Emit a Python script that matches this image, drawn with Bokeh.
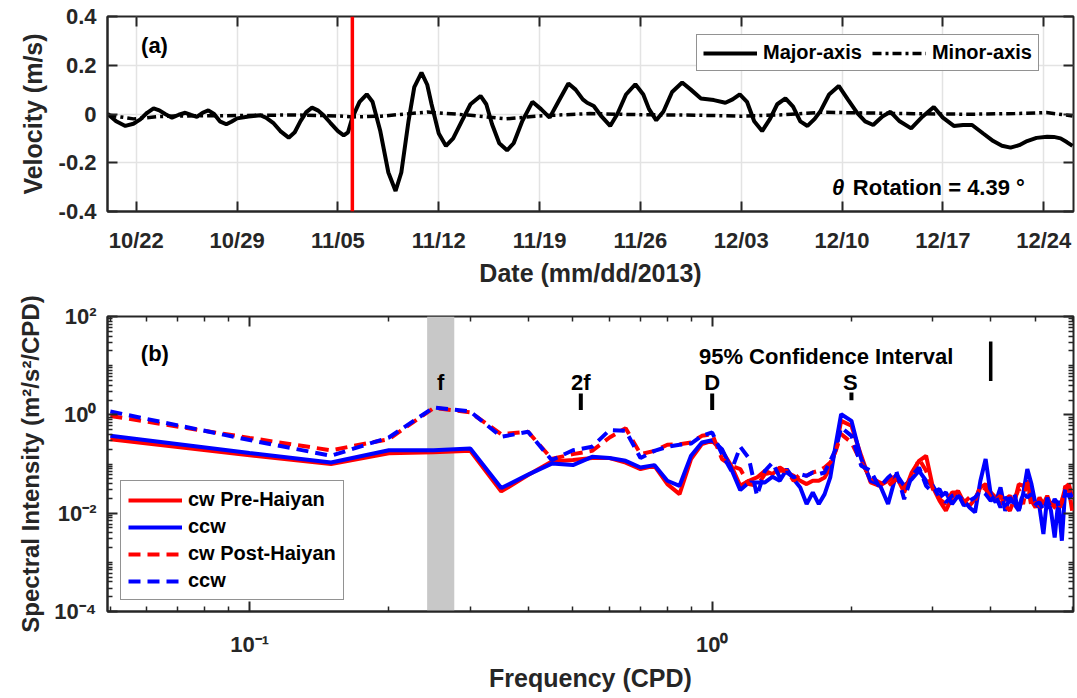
import pandas as pd
from bokeh.plotting import figure
from bokeh.models import (FixedTicker, LinearAxis, Span, BoxAnnotation, Label, Legend,
                          LegendItem, Range1d, BasicTickFormatter, CustomJSTickFormatter)
from bokeh.layouts import column
from bokeh.embed import file_html
from bokeh.resources import INLINE

FONT = "Liberation Sans"
AXC = "#262626"

# ---------------- panel (a) data ----------------
START = "2013-10-20"
END = "2013-12-26 01:40"
haiyan_date = "2013-11-06"
date_ticks = ["2013-10-22", "2013-10-29", "2013-11-05", "2013-11-12", "2013-11-19",
              "2013-11-26", "2013-12-03", "2013-12-10", "2013-12-17", "2013-12-24"]
vel_ticks = [-0.4, -0.2, 0.0, 0.2, 0.4]
vel_tick_labels = ["-0.4", "-0.2", "0", "0.2", "0.4"]

# days since 2013-10-20 and velocity (m/s)
major_days = [0.0, 0.6, 1.24, 1.8, 2.28, 2.75, 3.2, 3.6, 4.0, 4.48, 4.95, 5.4, 5.8, 6.2, 6.6,
              7.0, 7.4, 7.8, 8.25, 8.6, 9.0, 9.8, 10.6, 11.0, 11.5, 12.0, 12.58, 13.0, 13.4,
              13.8, 14.2, 14.6, 15.0, 15.47, 16.0, 16.4, 16.7, 17.0, 17.5, 18.0, 18.4, 18.94,
              19.5, 20.0, 20.4, 20.9, 21.3, 21.8, 22.2, 22.5, 23.0, 23.5, 24.0, 24.6, 25.2,
              25.9, 26.3, 26.7, 27.2, 27.74, 28.2, 28.8, 29.5, 30.1, 30.7, 31.3, 32.0, 32.5,
              33.0, 33.3, 33.76, 34.3, 34.9, 35.4, 36.0, 36.65, 37.2, 37.6, 38.1, 38.6, 39.2,
              39.9, 40.5, 41.2, 42.1, 42.9, 43.4, 43.9, 44.4, 44.9, 45.45, 46.0, 46.5, 47.07,
              47.6, 48.1, 48.6, 49.1, 49.5, 50.1, 50.77, 51.4, 52.05, 52.6, 53.16, 53.8, 54.36,
              55.0, 55.8, 56.6, 57.37, 58.0, 58.76, 59.4, 60.03, 60.8, 61.5, 62.1, 62.7, 63.3,
              63.85, 64.5, 65.24, 65.7, 66.17, 66.6, 67.0]
major_vel = [0.001, -0.03, -0.049, -0.04, -0.022, 0.005, 0.023, 0.015, 0.0, -0.015, -0.003,
             0.005, -0.004, -0.012, 0.005, 0.015, 0.0, -0.03, -0.042, -0.032, -0.018, -0.01,
             -0.005, -0.015, -0.036, -0.07, -0.097, -0.075, -0.029, 0.008, 0.026, 0.015, -0.005,
             -0.036, -0.07, -0.088, -0.075, -0.015, 0.05, 0.081, 0.05, -0.07, -0.24, -0.316,
             -0.24, -0.029, 0.11, 0.17, 0.12, 0.04, -0.08, -0.131, -0.1, -0.029, 0.04, 0.074,
             0.04, -0.042, -0.12, -0.149, -0.12, -0.029, 0.05, 0.02, -0.015, 0.05, 0.125, 0.1,
             0.06, 0.046, 0.033, -0.01, -0.049, 0.0, 0.08, 0.122, 0.08, 0.02, -0.026, 0.01, 0.09,
             0.129, 0.1, 0.064, 0.057, 0.046, 0.06, 0.081, 0.05, -0.03, -0.07, -0.02, 0.04, 0.064,
             0.03, -0.03, -0.049, -0.02, 0.012, 0.08, 0.115, 0.06, 0.005, -0.03, -0.045, -0.01,
             0.009, -0.03, -0.059, -0.01, 0.029, -0.015, -0.049, -0.045, -0.045, -0.08, -0.111,
             -0.13, -0.138, -0.128, -0.111, -0.098, -0.093, -0.094, -0.1, -0.115, -0.131]
minor_days = [0.0, 1.8, 3.5, 5.0, 8.0, 11.0, 13.0, 16.0, 17.0, 19.0, 22.2, 25.0, 27.7, 30.0,
              33.5, 37.0, 41.0, 44.0, 47.0, 49.5, 52.0, 56.0, 60.0, 63.0, 65.2, 67.0]
minor_vel = [-0.004, -0.02, -0.011, -0.008, -0.007, -0.005, -0.004, -0.008, -0.012, -0.009,
             0.008, -0.004, -0.02, -0.008, 0.002, -0.003, -0.005, -0.009, -0.003, 0.007,
             0.005, 0.001, -0.001, 0.002, 0.006, -0.008]

# ---------------- panel (b) data ----------------
freq = [0.05, 0.10, 0.15, 0.20, 0.25, 0.30, 0.35, 0.40, 0.45, 0.50, 0.55, 0.60, 0.65, 0.70,
        0.75, 0.80, 0.85, 0.90, 0.95, 1.00, 1.05, 1.10, 1.15, 1.20, 1.25, 1.30, 1.35, 1.40,
        1.45, 1.50, 1.55, 1.60, 1.65, 1.70, 1.75, 1.80, 1.85, 1.9, 2.0, 2.1, 2.2, 2.3, 2.4,
        2.5, 2.6, 2.7, 2.8, 2.9, 3.0, 3.1, 3.2, 3.3, 3.4, 3.5, 3.6, 3.7, 3.8, 3.9, 4.0, 4.1,
        4.2, 4.3, 4.4, 4.5, 4.6, 4.7, 4.8, 4.9, 5.0, 5.1, 5.2, 5.3, 5.4, 5.5, 5.6, 5.7, 5.8,
        5.9, 6.0]
cw_pre = [0.32, 0.151, 0.0995, 0.165, 0.174, 0.185, 0.0277, 0.0595, 0.112, 0.12,
          0.132, 0.132, 0.107, 0.0787, 0.0919, 0.039, 0.0244, 0.126, 0.253, 0.296, 0.185,
          0.0919, 0.036, 0.0456, 0.0532, 0.0728, 0.0622, 0.085, 0.0673, 0.0575, 0.0456,
          0.039, 0.0456, 0.0456, 0.0532, 0.085, 0.2,
          0.755, 0.598, 0.147, 0.0422, 0.036, 0.0456, 0.0575, 0.0264, 0.0673, 0.116, 0.147,
          0.0333, 0.0179, 0.0112, 0.0209, 0.0285, 0.0165, 0.0142, 0.0193, 0.0333, 0.039,
          0.0264, 0.0209, 0.0153, 0.0193, 0.0226, 0.0165, 0.039, 0.036, 0.0456, 0.0179,
          0.0131, 0.0209, 0.0153, 0.0226, 0.0142, 0.0165, 0.0121, 0.0179, 0.0333, 0.039,
          0.0209]
ccw_pre = [0.374, 0.167, 0.107, 0.191, 0.191, 0.207, 0.0324, 0.0608, 0.102, 0.095,
           0.14, 0.132, 0.116, 0.085, 0.0948, 0.0456, 0.036, 0.147, 0.274, 0.305, 0.2,
           0.0787, 0.0294, 0.0422, 0.0422, 0.0422, 0.055, 0.0456, 0.0787, 0.0492, 0.0333,
           0.0153, 0.0264, 0.0153, 0.0244, 0.0532, 0.253,
           1.03, 0.755, 0.126, 0.0456, 0.039, 0.0153, 0.0622, 0.036, 0.0492, 0.0728, 0.0456,
           0.036, 0.0209, 0.0264, 0.0153, 0.0226, 0.0179, 0.0131, 0.0104, 0.0456, 0.126,
           0.0244, 0.0165, 0.0333, 0.0112, 0.0209, 0.0153, 0.0112, 0.0244, 0.0787, 0.039,
           0.0153, 0.0131, 0.00376, 0.0209, 0.0112, 0.00321, 0.0179, 0.00275, 0.0333, 0.0285,
           0.0209]
cw_post = [0.95, 0.339, 0.19, 0.32, 1.38, 1.12, 0.405, 0.451, 0.127, 0.159,
           0.185, 0.346, 0.536, 0.159, 0.185, 0.246, 0.253, 0.274, 0.374, 0.405, 0.126,
           0.0919, 0.0787, 0.039, 0.036, 0.0622, 0.0673, 0.0728, 0.0728, 0.0456, 0.0622,
           0.0575, 0.0673, 0.0728, 0.085, 0.107, 0.185,
           0.405, 0.274, 0.107, 0.0532, 0.0422, 0.036, 0.0492, 0.0333, 0.0532, 0.126, 0.0728,
           0.0308, 0.0193, 0.0153, 0.0264, 0.0264, 0.0165, 0.0209, 0.0179, 0.036, 0.0308,
           0.0209, 0.0179, 0.0226, 0.0142, 0.0112, 0.0193, 0.0308, 0.0153, 0.0422, 0.0131,
           0.0165, 0.0142, 0.0121, 0.0153, 0.0165, 0.0131, 0.0112, 0.0165, 0.036, 0.0308,
           0.0112]
ccw_post = [1.17, 0.307, 0.147, 0.346, 1.41, 1.17, 0.357, 0.451, 0.12, 0.19,
            0.224, 0.489, 0.473, 0.132, 0.185, 0.224, 0.246, 0.261, 0.374, 0.438, 0.159,
            0.0728, 0.224, 0.132, 0.0226, 0.0728, 0.107, 0.0532, 0.0673, 0.0532, 0.0622,
            0.0575, 0.0673, 0.0622, 0.0673, 0.116, 0.2,
            0.555, 0.374, 0.0919, 0.0728, 0.0333, 0.0532, 0.0728, 0.0193, 0.0575, 0.085, 0.036,
            0.0264, 0.0308, 0.0165, 0.0226, 0.0244, 0.0142, 0.0179, 0.0209, 0.0285, 0.0244,
            0.0179, 0.0226, 0.0131, 0.0209, 0.0165, 0.0244, 0.0112, 0.0264, 0.0209, 0.0244,
            0.0153, 0.0165, 0.0112, 0.0179, 0.0131, 0.0193, 0.0153, 0.0165, 0.0244, 0.0226,
            0.0165]

inertial_band = [0.242, 0.277]
peak_names = ["f", "2f", "D", "S"]
peak_freqs = [0.259, 0.52, 1.0, 1.99]
bar_freqs = [0.52, 1.0, 2.0]
bar_low = [1.25, 1.25, 1.99]
bar_high = [2.71, 2.71, 2.84]
ci_freq = 4.0
ci_low, ci_high = 4.9, 30.9
spec_major_ticks = [1e-4, 1e-2, 1.0, 1e2]
spec_tick_labels = ["10⁻⁴", "10⁻²", "10⁰", "10²"]
freq_major_ticks = [0.1, 1.0]
freq_tick_labels = ["10⁻¹", "10⁰"]


def days(s):
    return (pd.Timestamp(s) - pd.Timestamp(START)) / pd.Timedelta(days=1)


def style_axis(ax, tick_in=10, minor_in=0):
    ax.major_label_text_font = FONT
    ax.major_label_text_font_style = "bold"
    ax.major_label_text_font_size = "22px"
    ax.major_label_text_color = AXC
    ax.axis_label_text_font = FONT
    ax.axis_label_text_font_style = "bold"
    ax.axis_label_text_font_size = "25px"
    ax.axis_label_text_color = AXC
    ax.axis_line_color = AXC
    ax.axis_line_width = 2
    ax.major_tick_in = tick_in
    ax.major_tick_out = 0
    ax.major_tick_line_color = AXC
    ax.major_tick_line_width = 2
    ax.minor_tick_in = minor_in
    ax.minor_tick_out = 0
    ax.minor_tick_line_color = AXC
    ax.minor_tick_line_width = 1.5


def mirror_axis(ticker, tick_in=10, minor_in=0):
    ax = LinearAxis(ticker=ticker, formatter=CustomJSTickFormatter(code="return '';"))
    style_axis(ax, tick_in, minor_in)
    ax.major_label_text_font_size = "1px"
    ax.major_label_standoff = 0
    ax.axis_line_color = None
    return ax


def text_label(x, y, text, align="left", style="bold"):
    return Label(x=x, y=y, text=text, text_font=FONT, text_font_style=style,
                 text_font_size="22px", text_color="black", text_align=align,
                 text_baseline="middle")


def style_legend(leg, pad, spacing, h):
    leg.label_text_font = FONT
    leg.label_text_font_style = "bold"
    leg.label_text_font_size = "20px"
    leg.label_text_color = "black"
    leg.glyph_width = 54
    leg.glyph_height = h
    leg.label_height = h
    leg.label_standoff = 6
    leg.spacing = spacing
    leg.padding = pad
    leg.margin = 0
    leg.border_line_color = AXC
    leg.border_line_width = 1.5


# ---------------- figure (a) ----------------
tick_days = [days(d) for d in date_ticks]
tick_labels = [pd.Timestamp(d).strftime("%m/%d") for d in date_ticks]

p1 = figure(width=1077, height=290, x_range=Range1d(days(START), days(END)),
            y_range=Range1d(-0.4, 0.4), output_backend="svg", toolbar_location=None,
            min_border_left=107, min_border_right=4, min_border_top=16, min_border_bottom=79)
p1.outline_line_color = AXC
p1.outline_line_width = 2
p1.xaxis.ticker = FixedTicker(ticks=tick_days)
p1.xaxis.major_label_overrides = dict(zip(tick_days, tick_labels))
p1.yaxis.ticker = FixedTicker(ticks=vel_ticks)
p1.yaxis.major_label_overrides = dict(zip(vel_ticks, vel_tick_labels))
p1.xaxis.axis_label = "Date (mm/dd/2013)"
p1.yaxis.axis_label = "Velocity (m/s)"
for ax in (p1.xaxis[0], p1.yaxis[0]):
    style_axis(ax)
p1.xaxis.major_label_standoff = 16
p1.xaxis.axis_label_standoff = 3
p1.yaxis.major_label_standoff = 11
p1.yaxis.axis_label_standoff = 9
p1.xgrid.grid_line_color = "#e3e3e3"
p1.ygrid.grid_line_color = "#e3e3e3"
p1.xgrid.grid_line_width = 1.5
p1.ygrid.grid_line_width = 1.5

p1.add_layout(mirror_axis(FixedTicker(ticks=vel_ticks)), "right")
p1.add_layout(mirror_axis(FixedTicker(ticks=tick_days)), "above")

r_major = p1.line(major_days, major_vel, line_color="black", line_width=4)
r_minor = p1.line(minor_days, minor_vel, line_color="black", line_width=3.5,
                  line_dash="9 4 3 4")
p1.add_layout(Span(location=days(haiyan_date), dimension="height", line_color="red",
                   line_width=3.5))

leg1 = Legend(items=[LegendItem(label="Major-axis", renderers=[r_major]),
                     LegendItem(label="Minor-axis", renderers=[r_minor])],
              orientation="horizontal", location=(589, 140))
style_legend(leg1, 6, 10, 20)
p1.add_layout(leg1)

p1.add_layout(text_label(2.33, 0.283, "(a)"))
p1.add_layout(text_label(50.3, -0.303, "θ", style="bold italic"))
p1.add_layout(text_label(51.75, -0.303, "Rotation = 4.39 °"))

# ---------------- figure (b) ----------------
p2 = figure(width=1077, height=406, x_axis_type="log", y_axis_type="log",
            x_range=Range1d(0.0493, 6.04), y_range=Range1d(1e-4, 1e2),
            output_backend="svg", toolbar_location=None,
            min_border_left=107, min_border_right=4, min_border_top=26, min_border_bottom=85)
p2.outline_line_color = AXC
p2.outline_line_width = 2
p2.xgrid.visible = False
p2.ygrid.visible = False

x_minor = [k * 10.0 ** e for e in (-2, -1, 0) for k in range(2, 10)]
y_minor = [k * 10.0 ** e for e in range(-4, 2) for k in range(1, 10)
           if not (k == 1 and e % 2 == 0)]
p2.xaxis.ticker = FixedTicker(ticks=freq_major_ticks, minor_ticks=x_minor)
p2.xaxis.formatter = BasicTickFormatter()
p2.xaxis.major_label_overrides = dict(zip(freq_major_ticks, freq_tick_labels))
p2.yaxis.ticker = FixedTicker(ticks=spec_major_ticks, minor_ticks=y_minor)
p2.yaxis.formatter = BasicTickFormatter()
p2.yaxis.major_label_overrides = dict(zip(spec_major_ticks, spec_tick_labels))
p2.xaxis.axis_label = "Frequency (CPD)"
p2.yaxis.axis_label = "Spectral Intensity (m²/s²/CPD)"
for ax in (p2.xaxis[0], p2.yaxis[0]):
    style_axis(ax, 10, 5)
p2.yaxis.axis_label_text_font_size = "24px"
p2.xaxis.major_label_standoff = 20
p2.xaxis.axis_label_standoff = 4
p2.yaxis.major_label_standoff = 11
p2.yaxis.axis_label_standoff = 7

p2.add_layout(mirror_axis(FixedTicker(ticks=spec_major_ticks, minor_ticks=y_minor), 10, 5),
              "right")
p2.add_layout(mirror_axis(FixedTicker(ticks=freq_major_ticks, minor_ticks=x_minor), 10, 5),
              "above")

p2.add_layout(BoxAnnotation(left=inertial_band[0], right=inertial_band[1],
                            fill_color="#c8c8c8", fill_alpha=1.0, line_color=None,
                            level="underlay"))

r1 = p2.line(freq, cw_pre, line_color="red", line_width=4)
r2 = p2.line(freq, ccw_pre, line_color="blue", line_width=4)
r3 = p2.line(freq, cw_post, line_color="red", line_width=4, line_dash="12 7")
r4 = p2.line(freq, ccw_post, line_color="blue", line_width=4, line_dash="12 7")

p2.segment(x0=bar_freqs, y0=bar_low, x1=bar_freqs, y1=bar_high, line_color="black",
           line_width=4)
p2.segment(x0=[ci_freq], y0=[ci_low], x1=[ci_freq], y1=[ci_high], line_color="black",
           line_width=3.5)
for name, fx in zip(peak_names, peak_freqs):
    p2.add_layout(text_label(fx, 4.5, name, align="center"))
p2.add_layout(text_label(3.32, 15.1, "95% Confidence Interval", align="right"))
p2.add_layout(text_label(0.0582, 17.4, "(b)"))

leg2 = Legend(items=[LegendItem(label="cw Pre-Haiyan", renderers=[r1]),
                     LegendItem(label="ccw", renderers=[r2]),
                     LegendItem(label="cw Post-Haiyan", renderers=[r3]),
                     LegendItem(label="ccw", renderers=[r4])],
              location=(13, 11))
style_legend(leg2, 7, 4, 22)
p2.add_layout(leg2)

layout = column(p1, p2)
open("out.html", "w").write(file_html(layout, INLINE))
